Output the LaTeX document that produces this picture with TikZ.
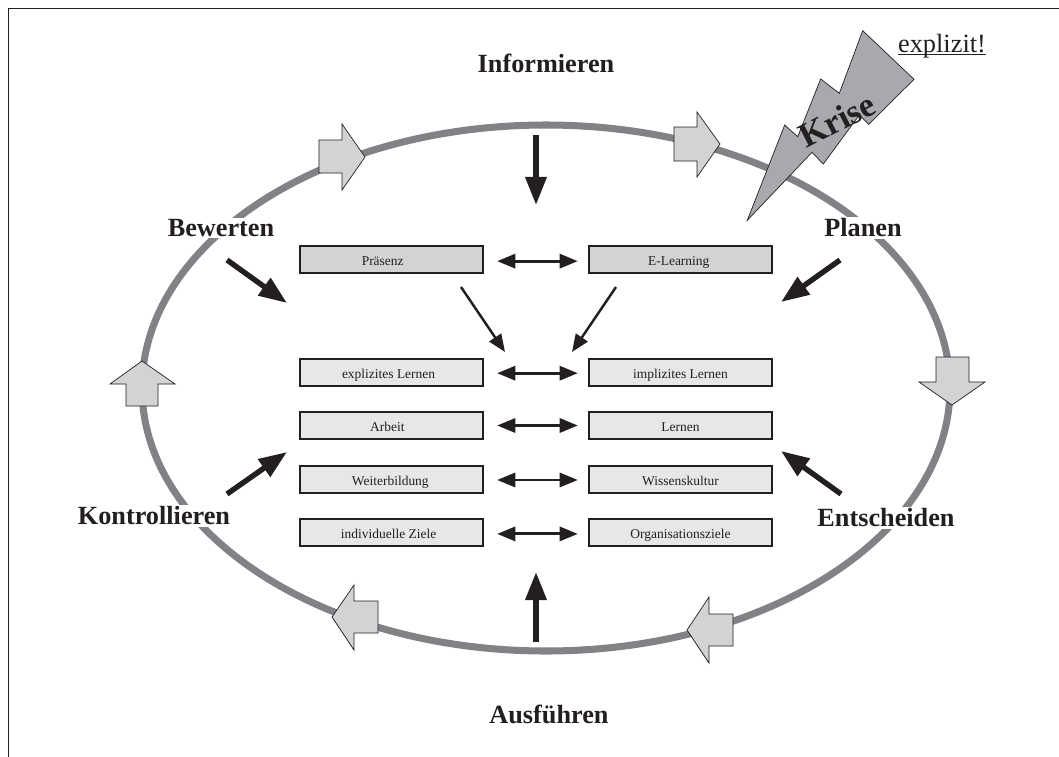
\documentclass[tikz,border=0pt]{standalone}
\usepackage{fontspec}
\setmainfont{Liberation Serif}
\usetikzlibrary{arrows.meta}
\definecolor{ringgray}{HTML}{808285}
\definecolor{blockfill}{HTML}{D1D3D4}
\definecolor{boxlight}{HTML}{E6E7E8}
\definecolor{boltfill}{HTML}{A7A9AC}
\definecolor{inkdark}{HTML}{231F20}
\tikzset{
  x=0.03cm,y=-0.03cm,
  phase/.style={font=\fontsize{22.4}{24}\selectfont\bfseries,text=inkdark,fill=white,inner sep=1.5pt},
  itembox/.style={draw=inkdark,line width=1.8pt,minimum width=5.5cm,minimum height=0.79cm,inner sep=0pt,text height=11.5pt,text depth=2.1pt,font=\fontsize{11.5}{13}\selectfont,text=inkdark},
  darkbox/.style={itembox,fill=blockfill},
  lightbox/.style={itembox,fill=boxlight},
  ring/.style={draw=ringgray,line width=6pt},
  blockarrow/.style={draw=inkdark,line width=0.6pt,fill=blockfill,line join=miter},
  twoway/.style={draw=inkdark,line width=2.5pt,{Triangle[length=15.5pt,width=12pt]}-{Triangle[length=15.5pt,width=12pt]},shorten <=11pt,shorten >=8.5pt},
  thinarrow/.style={draw=inkdark,line width=2.1pt,-{Triangle[length=15pt,width=12pt]}},
  thickarrow/.style={draw=inkdark,line width=4.6pt,-{Triangle[length=24pt,width=17.5pt]}},
}
\begin{document}
\begin{tikzpicture}
\useasboundingbox (0,0) rectangle (1059,757);
% frame
\draw[inkdark,line width=1.1pt] (8.3,757) -- (8.3,8.3) -- (1059,8.3);
% ring
\path[ring] (546,388) ellipse [x radius=404,y radius=263];
% block arrows
\draw[blockarrow] (319,140) -- (342,140) -- (342,124) -- (365,157) -- (342,190) -- (342,173) -- (319,173) -- cycle;
\draw[blockarrow] (674,127) -- (697,127) -- (697,112) -- (720,144) -- (697,177) -- (697,161) -- (674,161) -- cycle;
\draw[blockarrow] (936,357) -- (969,357) -- (969,382) -- (985,382) -- (952,405) -- (919,382) -- (936,382) -- cycle;
\draw[blockarrow] (733,614) -- (709,614) -- (709,597) -- (687,630) -- (709,663) -- (709,646) -- (733,646) -- cycle;
\draw[blockarrow] (378,601) -- (354,601) -- (354,585) -- (332,617) -- (354,650) -- (354,633) -- (378,633) -- cycle;
\draw[blockarrow] (126,406) -- (158,406) -- (158,384) -- (175,384) -- (142,361) -- (110,384) -- (126,384) -- cycle;
% lightning
\draw[draw=inkdark,line width=0.6pt,fill=boltfill,line join=miter] (862.7,30.7) -- (914,79.3) -- (868.7,124.3) -- (859.3,115) -- (823.3,164) -- (812,152.3) -- (747.3,220.3) -- (784.7,125) -- (797.7,136.7) -- (820.7,79) -- (839.3,93.3) -- cycle;
\node[rotate=27,font=\fontsize{29.5}{30}\selectfont\bfseries,text=inkdark,inner sep=0pt] (krise) at (837,120) {Krise};
\node[font=\fontsize{22.5}{24}\selectfont,text=inkdark,inner sep=0pt] (expl) at (942,46) {\rlap{\rule[-2.2pt]{75pt}{0.7pt}}explizit!};
% phase labels
\node[phase] (inf) at (546,63) {Informieren};
\node[phase] (aus) at (549,714) {Ausführen};
\node[phase] (bew) at (221,228) {Bewerten};
\node[phase] (pla) at (863,228) {Planen};
\node[phase] (kon) at (154,516) {Kontrollieren};
\node[phase] (ent) at (886,518) {Entscheiden};
% boxes
\node[darkbox] (a1) at (391.5,259.5) {Präsenz\hspace*{15pt}};
\node[darkbox] (b1) at (680.5,259.5) {E-Learning\hspace*{3pt}};
\node[lightbox] (a2) at (391.5,372.5) {explizites Lernen\hspace*{5pt}};
\node[lightbox] (b2) at (680.5,372.5) {implizites Lernen};
\node[lightbox] (a3) at (391.5,425.5) {Arbeit\hspace*{7pt}};
\node[lightbox] (b3) at (680.5,425.5) {Lernen};
\node[lightbox] (a4) at (391.5,479.5) {Weiterbildung\hspace*{2pt}};
\node[lightbox] (b4) at (680.5,479.5) {Wissenskultur};
\node[lightbox] (a5) at (391.5,532.5) {individuelle Ziele\hspace*{5pt}};
\node[lightbox] (b5) at (680.5,532.5) {Organisationsziele};
% two-way connectors
\draw[twoway] ([yshift=-1.4pt]a1.east) -- ([yshift=-1.4pt]b1.west);
\draw[twoway] ([yshift=-0.6pt]a2.east) -- ([yshift=-0.6pt]b2.west);
\draw[twoway] (a3.east) -- (b3.west);
\draw[twoway] ([yshift=-0.4pt]a4.east) -- ([yshift=-0.4pt]b4.west);
\draw[twoway] ([yshift=-1.2pt]a5.east) -- ([yshift=-1.2pt]b5.west);
% coordinates
\coordinate (d1s) at (461,287); \coordinate (d1e) at (505,352);
\coordinate (d2s) at (616,287); \coordinate (d2e) at (572,352);
\coordinate (t1s) at (536,135); \coordinate (t1e) at (536,205);
\coordinate (t2s) at (536,642); \coordinate (t2e) at (536,572);
\coordinate (t3s) at (227,260); \coordinate (t3e) at (287,303);
\coordinate (t4s) at (840,260); \coordinate (t4e) at (781,302);
\coordinate (t5s) at (227,494); \coordinate (t5e) at (287,452);
\coordinate (t6s) at (841,494); \coordinate (t6e) at (781,451);
\draw[thinarrow] (d1s) -- (d1e);
\draw[thinarrow] (d2s) -- (d2e);
\draw[thickarrow] (t1s) -- (t1e);
\draw[thickarrow] (t2s) -- (t2e);
\draw[thickarrow] (t3s) -- (t3e);
\draw[thickarrow] (t4s) -- (t4e);
\draw[thickarrow] (t5s) -- (t5e);
\draw[thickarrow] (t6s) -- (t6e);
\end{tikzpicture}
\end{document}
